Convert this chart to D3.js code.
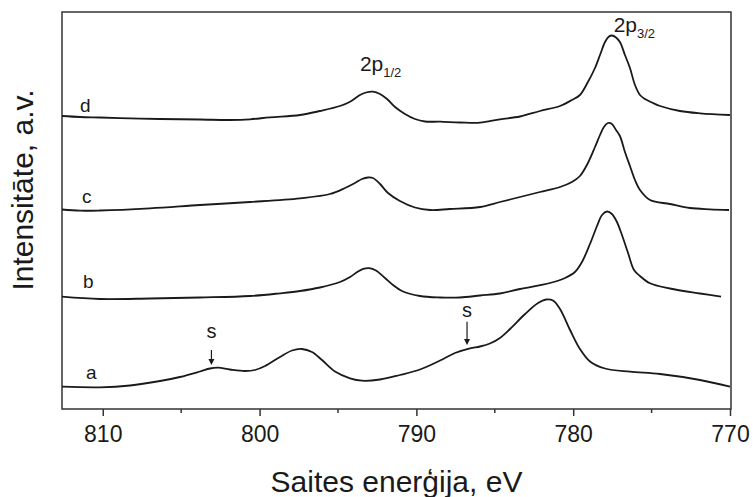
<!DOCTYPE html>
<html>
<head>
<meta charset="utf-8">
<script src="https://cdn.jsdelivr.net/npm/d3@7"></script>
<style>
  html, body { margin: 0; padding: 0; background: #fff; }
  svg { display: block; }
  text { font-family: "Liberation Sans", Arial, Helvetica, sans-serif; fill: #1a1a1a; }
</style>
</head>
<body>
<svg id="chart" width="753" height="497"></svg>
<script>
// ---- Data (binding energy in eV, intensity in arbitrary units) ----
const aEnergy = [812.6, 810.18, 808.26, 806.35, 805.08, 803.80, 803.16, 802.65, 801.89, 800.93, 800.29, 799.65, 798.70, 797.93, 797.30, 796.66, 796.02, 795.19, 794.23, 793.47, 792.32, 791.05, 789.77, 788.49, 787.54, 786.58, 785.94, 785.31, 784.67, 784.03, 783.07, 782.24, 781.73, 781.29, 780.84, 780.20, 779.57, 778.93, 777.97, 776.38, 774.46, 771.91, 770.0];
const aIntensity = [22.3, 21.7, 23.5, 28, 32, 37.5, 40.5, 41.3, 39.5, 38, 39, 43, 52, 58.5, 60, 57, 49, 37.5, 30.7, 28.3, 29.5, 34, 39.5, 48.5, 56, 60.7, 62.5, 65.5, 71, 80, 95, 106, 109.5, 108.5, 100, 79, 60, 47.5, 40.5, 37.3, 35, 29, 22.3];

const bEnergy = [812.6, 810.18, 806.99, 803.80, 800.61, 798.70, 797.42, 796.15, 794.87, 794.23, 793.72, 793.34, 793.02, 792.58, 792.00, 791.49, 790.92, 789.77, 788.49, 787.22, 785.94, 784.67, 783.39, 781.48, 780.52, 779.89, 779.44, 778.93, 778.48, 778.16, 777.84, 777.53, 777.21, 776.89, 776.50, 776.12, 775.74, 775.10, 773.83, 771.91, 770.57];
const bIntensity = [112.3, 110, 110.5, 111.5, 113, 115.7, 118, 121.5, 127, 132, 137.5, 140.3, 140.8, 138.5, 131, 124, 118, 113, 111.5, 111.5, 113.5, 115.5, 120, 126, 131, 137, 147, 165, 183, 194, 197.5, 195, 187, 174, 156, 139, 133, 125.7, 120.5, 115.5, 112.3];

const cEnergy = [812.6, 811.45, 810.18, 806.99, 803.80, 800.61, 797.42, 795.51, 794.55, 793.92, 793.47, 793.09, 792.77, 792.32, 791.81, 791.05, 790.09, 789.13, 787.86, 785.94, 784.67, 783.39, 782.12, 780.84, 780.08, 779.57, 779.06, 778.61, 778.29, 778.04, 777.78, 777.53, 777.27, 777.02, 776.70, 776.38, 776.06, 775.74, 775.10, 773.83, 772.55, 771.28, 770.06];
const cIntensity = [199.5, 198.3, 198.5, 200.7, 204, 207, 210.7, 215, 221, 226, 230, 231.5, 231, 225, 216, 208, 201.5, 199, 200, 202, 207, 212, 217, 222, 227, 233, 246, 262, 274, 282, 286, 285, 279, 273, 257, 243, 229, 219, 209, 205, 201, 199.7, 199];

const dEnergy = [812.6, 811.45, 810.18, 808.26, 806.35, 803.80, 801.89, 800.61, 799.34, 797.42, 796.15, 794.87, 794.23, 793.60, 793.21, 792.77, 792.32, 791.87, 791.36, 790.73, 790.09, 789.45, 788.49, 787.22, 785.94, 784.67, 783.39, 782.12, 780.84, 780.08, 779.57, 779.06, 778.61, 778.29, 777.97, 777.72, 777.53, 777.27, 777.02, 776.70, 776.38, 776.06, 775.74, 775.42, 774.98, 774.46, 773.19, 771.91, 770.0];
const dIntensity = [293, 292, 291.5, 290.7, 290, 289.5, 289, 289.7, 291.7, 294, 298, 303, 307.3, 314, 316.5, 317.3, 315, 310, 302, 295, 290, 287.5, 287.3, 286.5, 286.3, 289.7, 292.5, 298, 303, 309, 314, 327, 341, 354, 367, 372.5, 373.5, 371.5, 367, 354, 341, 324, 314, 310, 306.5, 303, 298, 295.7, 294];

const seriesNames = ["a", "b", "c", "d"];
const majorTicks = [810, 800, 790, 780, 770];
const minorTicks = [805, 795, 785, 775];
const xTitle = "Saites enerģija, eV";
const yTitle = "Intensitāte, a.v.";

// ---- Layout ----
const svg = d3.select("#chart");
const L = 62, R = 731, T = 12, B = 409;
const x = d3.scaleLinear().domain([812.6, 770]).range([L, 730]);
const y = d3.scaleLinear().domain([0, 397]).range([B, T]);

const ink = "#1a1a1a";

// frame
svg.append("rect")
  .attr("x", L).attr("y", T).attr("width", R - L).attr("height", B - T)
  .attr("fill", "none").attr("stroke", "#333").attr("stroke-width", 1.5);

// bottom axis
const axis = svg.append("g").attr("transform", `translate(0,${B})`);
axis.call(d3.axisBottom(x).tickValues(majorTicks).tickSize(7).tickSizeOuter(0).tickFormat(d3.format("d")))
  .call(g => g.select(".domain").remove())
  .call(g => g.selectAll(".tick line").attr("stroke", "#333").attr("stroke-width", 1.5))
  .call(g => g.selectAll(".tick text")
    .attr("font-size", 23).attr("dy", null).attr("y", 33)
    .attr("font-family", "Liberation Sans, Arial, sans-serif").attr("fill", "#1a1a1a"));
axis.selectAll(".minor").data(minorTicks).enter().append("line")
  .attr("x1", d => x(d)).attr("x2", d => x(d)).attr("y1", 0).attr("y2", 4)
  .attr("stroke", "#333").attr("stroke-width", 1.5);

// curves
const line = d3.line()
  .x(d => x(d[0])).y(d => y(d[1]))
  .curve(d3.curveCatmullRom.alpha(0.5));
const series = [
  [aEnergy, aIntensity], [bEnergy, bIntensity], [cEnergy, cIntensity], [dEnergy, dIntensity]
];
series.forEach(([e, v]) => {
  svg.append("path")
    .datum(e.map((ev, i) => [ev, v[i]]))
    .attr("d", line)
    .attr("fill", "none").attr("stroke", ink).attr("stroke-width", 1.8)
    .attr("stroke-linejoin", "round");
});

// series labels
const labelPos = { a: [811.07, 30], b: [811.26, 121], c: [811.32, 206], d: [811.45, 297] };
seriesNames.forEach(n => {
  svg.append("text").attr("x", x(labelPos[n][0])).attr("y", y(labelPos[n][1]))
    .attr("font-size", 19).text(n);
});

// peak labels
function peakLabel(ev, inten, sub) {
  const t = svg.append("text").attr("x", x(ev)).attr("y", y(inten)).attr("font-size", 21);
  t.append("tspan").text("2p");
  t.append("tspan").attr("font-size", 13).attr("dy", 6).text(sub);
}
peakLabel(793.6, 338.3, "1/2");
peakLabel(777.42, 377.3, "3/2");

// satellite markers
const sMarks = [[803.07, 71, 59, 44], [786.77, 92, 87.3, 64]];
sMarks.forEach(([ev, ty, y1, y2]) => {
  svg.append("text").attr("x", x(ev)).attr("y", y(ty)).attr("font-size", 20)
    .attr("text-anchor", "middle").text("s");
  const px = x(ev);
  svg.append("line").attr("x1", px).attr("x2", px).attr("y1", y(y1)).attr("y2", y(y2) - 5)
    .attr("stroke", ink).attr("stroke-width", 1.2);
  svg.append("path")
    .attr("d", `M${px - 3},${y(y2) - 6} L${px + 3},${y(y2) - 6} L${px},${y(y2)} Z`)
    .attr("fill", ink);
});

// axis titles
svg.append("text").attr("x", (L + R) / 2).attr("y", 492).attr("text-anchor", "middle")
  .attr("font-size", 30).text(xTitle);
svg.append("text").attr("transform", "translate(33,190) rotate(-90)").attr("text-anchor", "middle")
  .attr("font-size", 30).text(yTitle);
</script>
</body>
</html>
